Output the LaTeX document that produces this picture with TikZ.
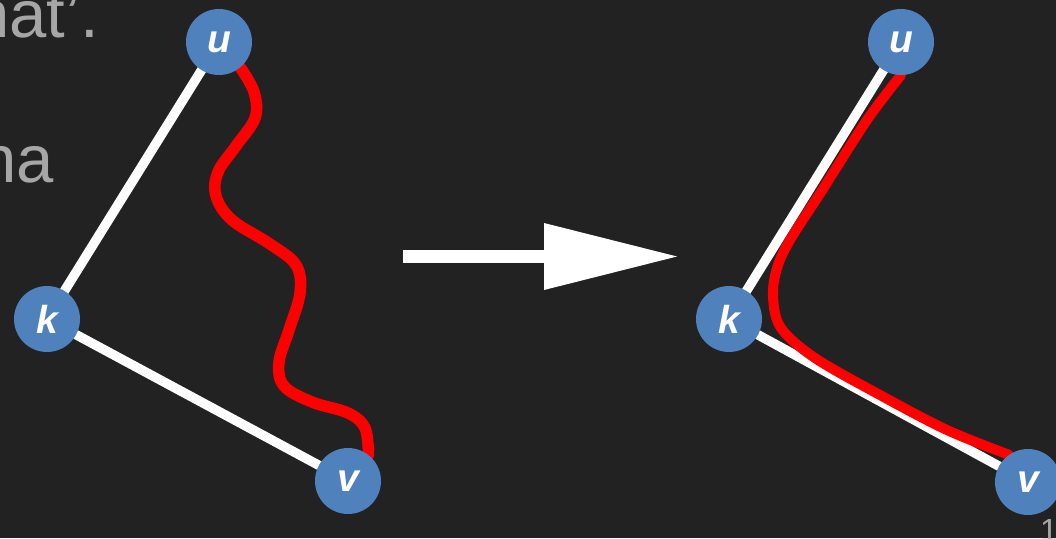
\documentclass[tikz,border=0pt]{standalone}
\usepackage{fontspec}
\setmainfont{Liberation Sans}
\usetikzlibrary{arrows.meta}
\definecolor{bgc}{HTML}{222222}
\definecolor{nodeblue}{HTML}{4F81BD}
\definecolor{textgray}{HTML}{A6A6A6}
\definecolor{pathred}{HTML}{FF0000}
\pgfdeclarelayer{bg}
\pgfsetlayers{bg,main}
\begin{document}
\begin{tikzpicture}[x=1pt,y=-1pt,
  vtx/.style={circle, fill=nodeblue, minimum size=66pt, inner sep=0pt, text=white,
    font=\fontsize{39}{39}\selectfont\bfseries\itshape},
  edge/.style={white, line width=9.5pt},
  walk/.style={pathred, line width=11.5pt, line cap=round, line join=round},
  slide/.style={text=textgray, font=\fontsize{67}{67}\selectfont, inner sep=0pt},
  pagenum/.style={text=textgray, font=\fontsize{32}{32}\selectfont, inner sep=0pt},
  bigarrow/.style={white, line width=13pt, -{Triangle[length=133pt,width=67pt,line width=0pt]}}]
\useasboundingbox (0,0) rectangle (1056,538);
\begin{pgfonlayer}{bg}
  \fill[bgc] (0,0) rectangle (1056,538);
\end{pgfonlayer}

% slide text fragments
\node[slide, anchor=base east] (t1) at (99,37) {hat’.};
\node[slide, anchor=base east] (t2) at (54,182) {na};
\node[pagenum, anchor=base east] (pg) at (1058,541) {1};

% left graph
\node[vtx] (u1) at (219,42) {u};
\node[vtx] (k1) at (47,319) {k};
\node[vtx] (v1) at (348,481) {v};

% right graph
\node[vtx] (u2) at (901,42) {u};
\node[vtx] (k2) at (729,319) {k};
\node[vtx] (v2) at (1028,482) {v};

\begin{pgfonlayer}{bg}
  \draw[edge] (u1.center) -- (k1.center) -- (v1.center);
  \draw[walk] plot[smooth, tension=0.6] coordinates {(u1.-50) (254,92) (255,118) (236,146) (218,172) (216,196) (232,220) (270,244) (296,265) (300,293) (289,330) (279,362) (284,386) (312,402) (348,413) (365,428) (v1.52)};
  \draw[edge] (u2.center) -- (k2.center) -- (v2.center);
  \draw[walk, line width=10pt] plot[smooth, tension=0.55] coordinates {(u2.-90) (867,120) (821,192) (790,240) (777,268) (773,297) (781,328) (815,358) (880,395) (947,430) (v2.125)};
\end{pgfonlayer}

% transformation arrow
\coordinate (atail) at (403,256.5);
\coordinate (ahead) at (677,256.5);
\draw[bigarrow] (atail) -- (ahead);
\end{tikzpicture}
\end{document}
